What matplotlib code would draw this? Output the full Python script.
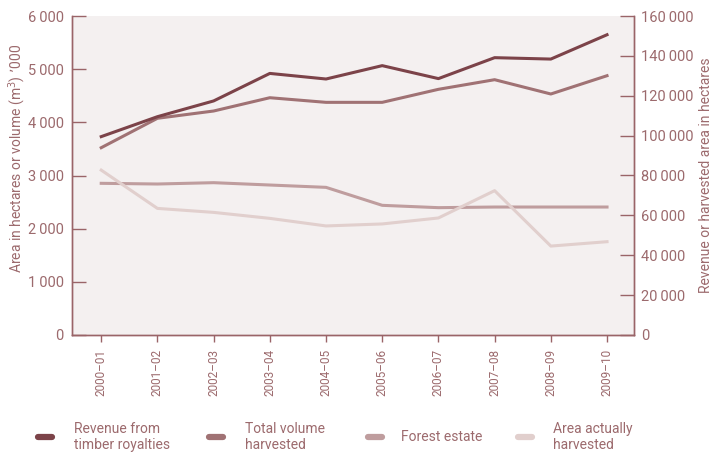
import matplotlib
matplotlib.use("Agg")
import matplotlib.pyplot as plt
from matplotlib.lines import Line2D
from matplotlib.ticker import FuncFormatter

# --- Data ---
years = ["2000\u201301", "2001\u201302", "2002\u201303", "2003\u201304", "2004\u201305",
         "2005\u201306", "2006\u201307", "2007\u201308", "2008\u201309", "2009\u201310"]

# right axis (revenue / hectares)
revenue = [99500, 109500, 117400, 131200, 128400, 135100, 128600, 139100, 138400, 150600]
area_harvested = [82700, 63500, 61500, 58500, 54700, 55700, 58700, 72400, 44600, 46800]

# left axis ('000 ha or '000 m3)
total_volume = [3523, 4076, 4213, 4463, 4376, 4376, 4621, 4802, 4533, 4877]
forest_estate = [2853, 2840, 2865, 2821, 2777, 2439, 2395, 2407, 2407, 2407]

labels = ["Revenue from\ntimber royalties", "Total volume\nharvested",
          "Forest estate", "Area actually\nharvested"]
colors = ["#7c4349", "#a07274", "#bf9d9e", "#e1cfcd"]

text_col = "#9c6a6d"
spine_col = "#9a6468"

plt.rcParams["font.family"] = ["Roboto", "DejaVu Sans"]
plt.rcParams["font.size"] = 9.5

fig = plt.figure(figsize=(7.12, 4.55), dpi=100)
ax = fig.add_axes([72 / 712, 1 - 335 / 455, (634 - 72) / 712, (335 - 16) / 455])
ax2 = ax.twinx()

x = list(range(len(years)))
ax.set_facecolor("#f4f0f0")

ax2.plot(x, revenue, color=colors[0], lw=2.2, zorder=4)
ax.plot(x, total_volume, color=colors[1], lw=2.2, zorder=3)
ax.plot(x, forest_estate, color=colors[2], lw=2.2, zorder=2)
ax2.plot(x, area_harvested, color=colors[3], lw=2.2, zorder=1)

ax.set_xlim(-0.52, 9.48)
ax.set_ylim(0, 6000)
ax2.set_ylim(0, 160000)
ax.set_yticks(range(0, 6001, 1000))
ax2.set_yticks(range(0, 160001, 20000))

fmt = FuncFormatter(lambda v, p: f"{int(v):,}".replace(",", "\u2009"))
ax.yaxis.set_major_formatter(fmt)
ax2.yaxis.set_major_formatter(fmt)

ax.set_xticks(x)
ax.set_xticklabels(years, rotation=90)

for a in (ax, ax2):
    a.spines["top"].set_visible(False)
    for s in ("left", "right", "bottom"):
        a.spines[s].set_color(spine_col)
        a.spines[s].set_linewidth(1.0)

ax.tick_params(axis="y", direction="in", length=10, width=1, color=spine_col,
               labelcolor=text_col, labelsize=10.5, pad=6)
ax2.tick_params(axis="y", direction="in", length=10, width=1, color=spine_col,
                labelcolor=text_col, labelsize=10.5, pad=5)
ax.tick_params(axis="x", direction="out", length=5, width=1, color=spine_col,
               labelcolor=text_col, labelsize=8.5, pad=5)

ax.set_ylabel("Area in hectares or volume (m$^3$) \u2019000", color=text_col, fontsize=10)
ax2.set_ylabel("Revenue or harvested area in hectares", color=text_col, fontsize=10)
ax.yaxis.set_label_coords(-44 / 562, 0.555)
ax2.yaxis.set_label_coords(1 + 65 / 562, 0.5)

# legend laid out by hand to match the reference spacing
handle_x = [38, 209, 368, 518]
text_x = [74, 245, 401, 553]
for c, lab, hx, tx in zip(colors, labels, handle_x, text_x):
    y = 1 - 437 / 455
    fig.add_artist(Line2D([hx / 712, (hx + 14) / 712], [y, y], color=c, lw=4.5,
                          solid_capstyle="round", transform=fig.transFigure))
    fig.text(tx / 712, y, lab, color=text_col, fontsize=10, va="center", ha="left",
             linespacing=1.2)

fig.savefig("out.png", dpi=100)
